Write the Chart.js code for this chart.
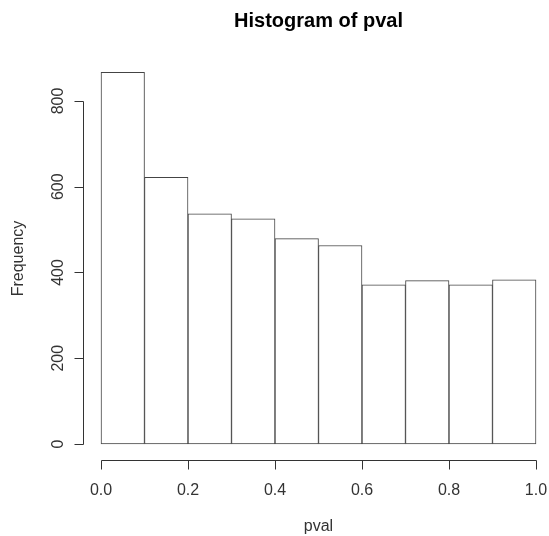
<!DOCTYPE html>
<html>
<head>
<meta charset="utf-8">
<script src="https://cdn.jsdelivr.net/npm/chart.js@4/dist/chart.umd.min.js"></script>
<style>
  html, body { margin: 0; padding: 0; background: #ffffff; }
  #wrap { width: 549px; height: 536px; }
</style>
</head>
<body>
<div id="wrap"><canvas id="c" width="549" height="536"></canvas></div>
<script>
// ---- data ----
const binStarts = [0.0, 0.1, 0.2, 0.3, 0.4, 0.5, 0.6, 0.7, 0.8, 0.9];
const binWidth = 0.1;
const counts = [867, 622, 537, 525, 479, 463, 371, 381, 371, 383];
const yTicks = [0, 200, 400, 600, 800];
const xTicks = [0.0, 0.2, 0.4, 0.6, 0.8, 1.0];
const titleText = 'Histogram of pval';
const xTitle = 'pval';
const yTitle = 'Frequency';

const points = binStarts.map((s, i) => ({ x: s + binWidth / 2, y: counts[i] }));

const FONT = '"Liberation Sans", Arial, Helvetica, sans-serif';

const rAxes = {
  id: 'rAxes',
  afterDraw(chart) {
    const ctx = chart.ctx;
    const xs = chart.scales.x, ys = chart.scales.y;
    const area = chart.chartArea;
    ctx.save();
    ctx.strokeStyle = '#333333';
    ctx.lineWidth = 1;
    const tick = 9;

    // y axis
    const yAxisX = Math.round(area.left) + 0.5;
    ctx.beginPath();
    ctx.moveTo(yAxisX, Math.round(ys.getPixelForValue(yTicks[0])) + 0.5);
    ctx.lineTo(yAxisX, Math.round(ys.getPixelForValue(yTicks[yTicks.length - 1])) + 0.5);
    yTicks.forEach(v => {
      const py = Math.round(ys.getPixelForValue(v)) + 0.5;
      ctx.moveTo(yAxisX, py);
      ctx.lineTo(yAxisX - tick, py);
    });
    ctx.stroke();

    // x axis
    const xAxisY = Math.round(area.bottom) + 0.5;
    ctx.beginPath();
    ctx.moveTo(Math.round(xs.getPixelForValue(xTicks[0])) + 0.5, xAxisY);
    ctx.lineTo(Math.round(xs.getPixelForValue(xTicks[xTicks.length - 1])) + 0.5, xAxisY);
    xTicks.forEach(v => {
      const px = Math.round(xs.getPixelForValue(v)) + 0.5;
      ctx.moveTo(px, xAxisY);
      ctx.lineTo(px, xAxisY + tick);
    });
    ctx.stroke();

    // tick labels
    ctx.fillStyle = '#333333';
    ctx.font = '16px ' + FONT;
    ctx.textAlign = 'center';
    ctx.textBaseline = 'alphabetic';
    xTicks.forEach(v => {
      ctx.fillText(v.toFixed(1), xs.getPixelForValue(v), 495);
    });
    yTicks.forEach(v => {
      ctx.save();
      ctx.translate(63, ys.getPixelForValue(v));
      ctx.rotate(-Math.PI / 2);
      ctx.fillText(String(v), 0, 0);
      ctx.restore();
    });

    // axis titles
    const midX = (xs.getPixelForValue(-0.04) + xs.getPixelForValue(1.04)) / 2;
    ctx.fillText(xTitle, midX, 531);
    ctx.save();
    ctx.translate(23, (area.top + area.bottom) / 2);
    ctx.rotate(-Math.PI / 2);
    ctx.fillText(yTitle, 0, 0);
    ctx.restore();

    // main title
    ctx.fillStyle = '#000000';
    ctx.font = 'bold 20px ' + FONT;
    ctx.fillText(titleText, midX, 27);
    ctx.restore();
  }
};

new Chart(document.getElementById('c'), {
  type: 'bar',
  data: {
    datasets: [{
      label: 'Frequency',
      data: points,
      backgroundColor: '#ffffff',
      borderColor: '#444444',
      borderWidth: 1,
      borderSkipped: false,
      barPercentage: 1.0,
      categoryPercentage: 1.0
    }]
  },
  options: {
    responsive: false,
    animation: false,
    devicePixelRatio: 1,
    layout: { padding: { left: 83, right: 4, top: 57, bottom: 76 } },
    plugins: {
      legend: { display: false },
      tooltip: { enabled: false },
      title: { display: false }
    },
    scales: {
      x: {
        type: 'linear',
        display: false,
        offset: false,
        min: -0.0414,
        max: 1.0207
      },
      y: {
        type: 'linear',
        display: false,
        min: -37.3,
        max: 902.6
      }
    }
  },
  plugins: [rAxes]
});
</script>
</body>
</html>
